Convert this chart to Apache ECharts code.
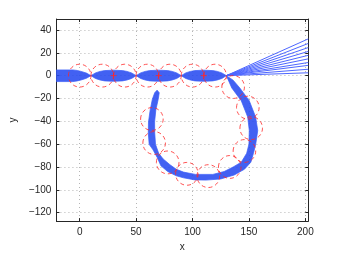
<!DOCTYPE html>
<html><head><meta charset="utf-8">
<script src="https://cdn.jsdelivr.net/npm/echarts@6/dist/echarts.min.js"></script>
<style>html,body{margin:0;padding:0;background:#fff}#c{width:341px;height:257px}</style>
</head><body><div id="c"></div>
<script>
const xTicks = [0, 50, 100, 150, 200];
const yTicks = [-120, -100, -80, -60, -40, -20, 0, 20, 40];

// straight bundle edges
const straightUpperX = [-20.6, -6, -2, 2, 6, 10, 14, 18, 22, 30, 38, 42, 46, 50, 54, 58, 62, 70, 78, 82, 86, 90, 94, 98, 102, 110, 118, 122, 126, 130];
const straightUpperY = [5, 5, 4.5, 3.5, 2.2, 0, 2.4, 3.7, 4.4, 4.8, 4.4, 3.7, 2.4, 0, 2.4, 3.7, 4.4, 4.8, 4.4, 3.7, 2.4, 0, 2.4, 3.7, 4.4, 4.8, 4.4, 3.7, 2.4, 0];
const straightLowerY = [-5.2, -5.2, -4.6, -3.6, -2.3, 0, -2.5, -3.8, -4.6, -5, -4.6, -3.8, -2.5, 0, -2.5, -3.8, -4.6, -5, -4.6, -3.8, -2.5, 0, -2.5, -3.8, -4.6, -5, -4.6, -3.8, -2.5, 0];

// loop bundle edges
const loopOuterX = [130, 136, 141.9, 150.3, 155.9, 157.8, 156, 154, 151.7, 146, 137, 125, 112, 102, 92, 85.6, 78, 72, 68.7, 65, 61.6, 60.8, 61, 62.5, 64.4, 66.5, 68.6];
const loopOuterY = [0, -4, -10.8, -22, -36.2, -48, -60, -68, -75.8, -82, -87, -90.5, -91.5, -91.3, -89.5, -87.7, -84, -79, -71.6, -65, -60.2, -50, -40.5, -30, -20.7, -15, -12.7];
const loopInnerX = [130, 134.8, 143.2, 148.9, 150.3, 150, 148, 143.2, 136, 128, 118, 102.6, 92, 85.6, 80, 74, 70, 67.2, 66.5, 66.4, 67.5, 69.6, 70.5, 68.6];
const loopInnerY = [0, -10.8, -22, -36.2, -48, -60, -68, -75.8, -80, -84, -86.5, -86.5, -84.5, -82, -78, -73, -68, -60.2, -50, -40.5, -30, -20.7, -15, -12.7];

// fan lines
const fanStart = [130, 0];
const fanEndX = 202.6;
const fanEndY = [32.2, 28.2, 24.6, 21.2, 17.8, 14.7, 11.5, 9, 5.6, 2.5];

// circles
const circleX = [0, 20, 40, 60, 80, 100, 120, 136, 149, 152, 146, 133, 114, 95, 78, 66, 64];
const circleY = [0, 0, 0, 0, 0, 0, 0, -10, -28, -46, -66, -80, -88, -86, -76, -59, -38];
const circleR = 10;

// crosses
const crossX = [30, 70, 110];
const crossY = [0, 0, 0];

const XMIN = -20.6, XMAX = 202.6, YMIN = -127.4, YMAX = 49.6;
const minus = v => String(v).replace('-', '\u2212');
const font = 'Liberation Sans, Arial, sans-serif';

function polyFromEdges(ux, uy, lx, ly) {
  const pts = [];
  for (let i = 0; i < ux.length; i++) pts.push([ux[i], uy[i]]);
  for (let i = lx.length - 1; i >= 0; i--) pts.push([lx[i], ly[i]]);
  return pts;
}
const straightPoly = polyFromEdges(straightUpperX, straightUpperY, straightUpperX, straightLowerY);
const loopPoly = polyFromEdges(loopOuterX, loopOuterY, loopInnerX, loopInnerY);

const blueFill = 'rgba(40,75,240,0.88)';
function polySeries(poly) {
  return {
    type: 'custom', coordinateSystem: 'cartesian2d', z: 2,
    data: [[poly[0][0], poly[0][1]]],
    clip: true,
    renderItem: (params, api) => ({
      type: 'polygon',
      shape: { points: poly.map(p => api.coord(p)) },
      style: { fill: blueFill, stroke: 'rgba(60,95,248,0.9)', lineWidth: 0.8 }
    })
  };
}

const fanSeries = fanEndY.map(y => ({
  type: 'line', z: 2, symbol: 'none', silent: true,
  data: [fanStart, [fanEndX, y]],
  lineStyle: { color: '#4d66ff', width: 1 }
}));

const circleSeries = {
  type: 'custom', coordinateSystem: 'cartesian2d', z: 5,
  data: circleX.map((x, i) => [x, circleY[i]]),
  renderItem: (params, api) => {
    const c = api.coord([api.value(0), api.value(1)]);
    const s = api.size([circleR, circleR]);
    return {
      type: 'ellipse',
      shape: { cx: c[0], cy: c[1], rx: s[0], ry: s[1] },
      style: { fill: null, stroke: 'rgba(255,40,40,0.8)', lineWidth: 1, lineDash: [4, 3] }
    };
  }
};

const crossSeries = {
  type: 'custom', coordinateSystem: 'cartesian2d', z: 6,
  data: crossX.map((x, i) => [x, crossY[i]]),
  renderItem: (params, api) => {
    const c = api.coord([api.value(0), api.value(1)]);
    const h = 3;
    return {
      type: 'group', children: [
        { type: 'line', shape: { x1: c[0] - h, y1: c[1], x2: c[0] + h, y2: c[1] }, style: { stroke: 'rgba(255,40,40,0.85)', lineWidth: 1 } },
        { type: 'line', shape: { x1: c[0], y1: c[1] - h, x2: c[0], y2: c[1] + h }, style: { stroke: 'rgba(255,40,40,0.85)', lineWidth: 1 } }
      ]
    };
  }
};

const axisLine = { show: true, onZero: false, lineStyle: { color: '#262626', width: 1 } };
const tick = { show: true, inside: true, length: 3, lineStyle: { color: '#262626' } };
const split = { show: true, lineStyle: { color: '#b5b5b5', width: 1, type: [1, 3] } };

const option = {
  animation: false,
  grid: { left: 44.3, right: 32.7, top: 19, bottom: 29.3, show: false },
  xAxis: [
    { type: 'value', min: XMIN, max: XMAX, position: 'bottom',
      axisLine, axisTick: Object.assign({ customValues: xTicks }, tick),
      axisLabel: { customValues: xTicks, formatter: minus, fontFamily: font, fontSize: 10, color: '#262626', margin: 6 },
      splitLine: split,
      name: 'x', nameLocation: 'middle', nameGap: 16, nameTextStyle: { fontFamily: font, fontSize: 10, color: '#262626' } },
    { type: 'value', min: XMIN, max: XMAX, position: 'top',
      axisLine, axisTick: Object.assign({ customValues: xTicks }, tick),
      axisLabel: { show: false }, splitLine: { show: false } }
  ],
  yAxis: [
    { type: 'value', min: YMIN, max: YMAX, position: 'left',
      axisLine, axisTick: Object.assign({ customValues: yTicks }, tick),
      axisLabel: { customValues: yTicks, formatter: minus, fontFamily: font, fontSize: 10, color: '#262626', margin: 5 },
      splitLine: split,
      name: 'y', nameLocation: 'middle', nameGap: 26, nameRotate: 90, nameTextStyle: { fontFamily: font, fontSize: 10, color: '#262626' } },
    { type: 'value', min: YMIN, max: YMAX, position: 'right',
      axisLine, axisTick: Object.assign({ customValues: yTicks }, tick),
      axisLabel: { show: false }, splitLine: { show: false } }
  ],
  series: [polySeries(straightPoly), polySeries(loopPoly), ...fanSeries, circleSeries, crossSeries]
};
const chart = echarts.init(document.getElementById('c'), null, { renderer: 'canvas' });
chart.setOption(option);
</script></body></html>
